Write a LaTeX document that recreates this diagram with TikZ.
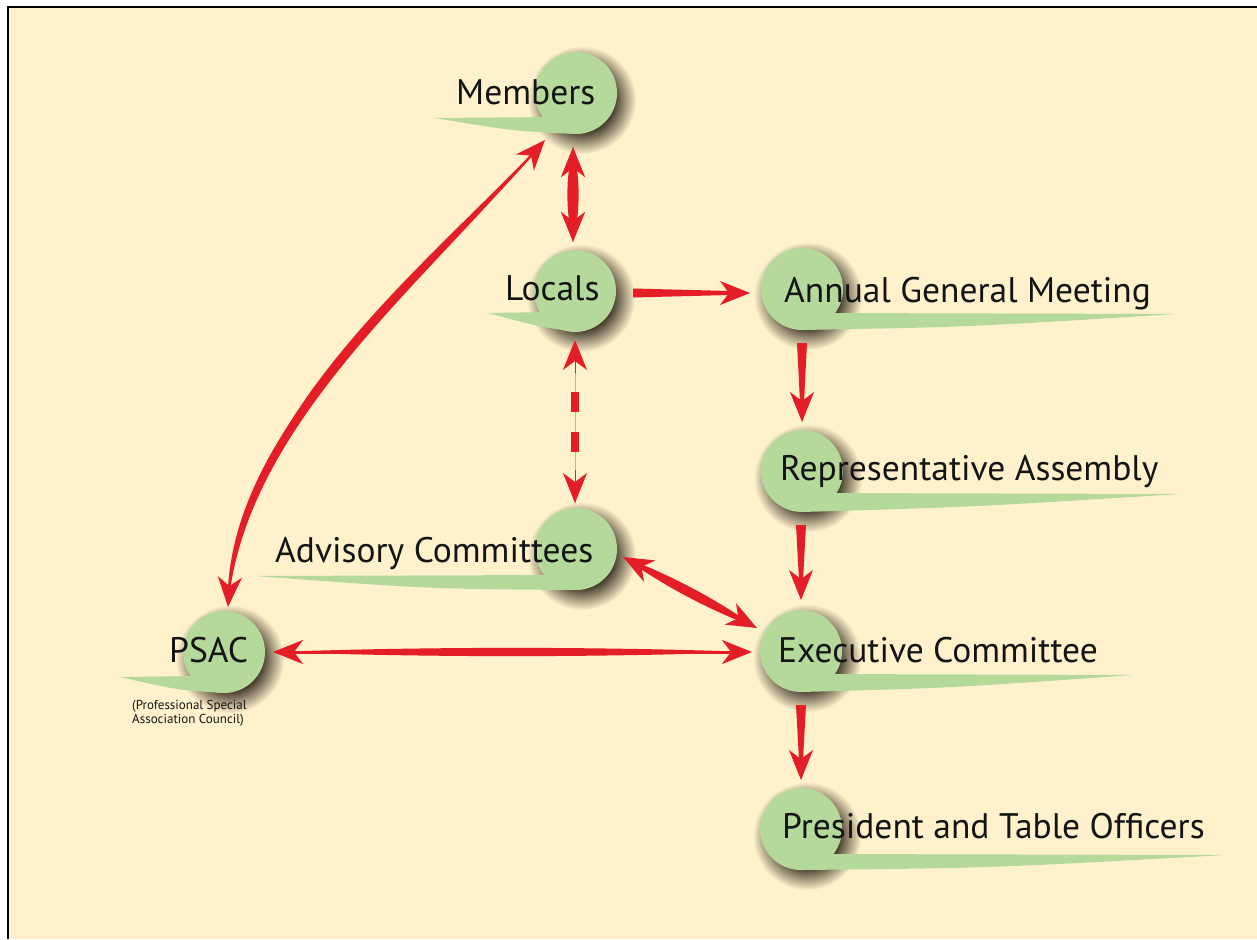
\documentclass[tikz,border=0pt]{standalone}
\usepackage{fontspec}
\setmainfont{PT Sans}
\usetikzlibrary{calc,arrows.meta,fadings}
\definecolor{bgcream}{HTML}{FEF1CC}
\definecolor{nodegreen}{HTML}{B4D99B}
\definecolor{arrred}{HTML}{E41E26}
\definecolor{dashline}{HTML}{D8A8A4}
\definecolor{txt}{HTML}{141414}
\pgfdeclareradialshading{softshadowshade}{\pgfpointorigin}{color(0bp)=(white); color(13bp)=(white); color(25bp)=(black); color(50bp)=(black)}
\pgfdeclarefading{softshadow}{\pgfuseshading{softshadowshade}}
\tikzset{
  gcirc/.style={circle, fill=nodegreen, minimum size=82pt, inner sep=0pt, outer sep=0pt},
  lbl/.style={text=txt, font=\fontsize{35.5}{42}\selectfont, inner sep=0pt, anchor=base west},
  sublbl/.style={text=txt, font=\fontsize{13}{14}\selectfont, inner sep=0pt, align=left, anchor=north west},
  shadowblob/.style={fill=black!85!brown, opacity=0.95, path fading=softshadow},
  >={Stealth[length=30pt, width=24pt, inset=9pt]},
  arrline/.style={draw=arrred, fill=arrred}
}
% name, x, y, tip dx, tip dy, side sign
\newcommand\gnode[6]{%
  \fill[shadowblob] (#2+6,#3+7) circle[radius=54pt];
  \fill[nodegreen] (#2+20*#6,#3+#5-1) -- (#2+#4,#3+#5)
     .. controls (#2+0.45*#4,#3+#5+13) .. (#2,#3+41) -- cycle;
  \node[gcirc] (#1) at (#2,#3) {};
}
% double arrow: node1, offset1, node2, offset2, lens offset, line width
\newcommand\dblarrow[6]{%
  \coordinate (tA) at ($(#1)+(#2)$);
  \coordinate (tB) at ($(#3)+(#4)$);
  \fill[arrred] (tA) .. controls ($(tA)!0.33!(tB)!#5!90:(tB)$) and ($(tA)!0.67!(tB)!#5!90:(tB)$) .. (tB)
     .. controls ($(tA)!0.67!(tB)!#5!-90:(tB)$) and ($(tA)!0.33!(tB)!#5!-90:(tB)$) .. (tA) -- cycle;
  \draw[arrline, line width=#6, <->] (tA) -- (tB);
}
% single arrow: node1, offset1, node2, offset2, start half width, end half width
\newcommand\sglarrow[6]{%
  \coordinate (tA) at ($(#1)+(#2)$);
  \coordinate (tB) at ($(#3)+(#4)$);
  \coordinate (tC) at ($(tB)!20pt!(tA)$);
  \fill[arrred] ($(tA)!#5!90:(tB)$) -- ($(tC)!#6!-90:(tA)$) -- ($(tC)!#6!90:(tA)$) -- ($(tA)!#5!-90:(tB)$) -- cycle;
  \draw[arrline, line width=1pt, ->] (tA) -- (tB);
}
\begin{document}
\begin{tikzpicture}[x=1pt, y=-1pt]
\useasboundingbox (0,0) rectangle (1257,939);
\fill[white] (0,0) rectangle (1257,939);
\fill[bgcream] (8,7) rectangle (1257,939);
\draw[black, line width=2pt] (8,939) -- (8,7) -- (1257,7);

% nodes
\gnode{cMem}{576}{93}{-141}{25}{-1}
\gnode{cLoc}{575}{291}{-87}{22}{-1}
\gnode{cAGM}{802}{289}{373}{25}{1}
\gnode{cRA}{802}{471}{378}{23}{1}
\gnode{cAdv}{576}{549}{-321}{27}{-1}
\gnode{cExec}{801}{651}{332}{24}{1}
\gnode{cPSAC}{224}{652}{-104}{25}{-1}
\gnode{cPres}{801}{829}{424}{26}{1}

% connectors
\dblarrow{cMem}{-3,54}{cLoc}{-2,-49}{7.5pt}{4pt}
\sglarrow{cLoc}{58,2}{cAGM}{-52,4}{4.5pt}{2pt}
\sglarrow{cAGM}{0,54}{cRA}{0,-49}{5pt}{2pt}
\sglarrow{cRA}{-1,54}{cExec}{0,-51}{5pt}{2pt}
\sglarrow{cExec}{0,54}{cPres}{0,-49}{5pt}{2pt}
\dblarrow{cAdv}{47,8}{cExec}{-44,-23}{6.5pt}{3pt}
\dblarrow{cPSAC}{49,0}{cExec}{-49,1}{5.5pt}{3pt}

% dashed link Locals <-> Advisory
\coordinate (dA) at ($(cLoc)+(0,49)$);
\coordinate (dB) at ($(cAdv)+(-1,-46)$);
\draw[dashline, line width=1pt] (dA) -- (dB);
\draw[arrline, line width=1pt, ->] ($(dA)!33pt!(dB)$) -- (dA);
\draw[arrline, line width=1pt, ->] ($(dB)!33pt!(dA)$) -- (dB);
\draw[arrred, line width=8pt, dash pattern=on 20pt off 20pt] ($(dA)!52pt!(dB)$) -- ($(dA)!112pt!(dB)$);

% curved link PSAC <-> Members
\coordinate (cvA) at ($(cPSAC)+(4,-45)$);
\coordinate (cvB) at ($(cMem)+(-31,47)$);
\coordinate (cv1) at ($(cvA)+(12,-187)$);
\coordinate (cv2) at ($(cvB)+(-125,140)$);
\fill[arrred] (cvA) .. controls ($(cv1)+(4.5,4.5)$) and ($(cv2)+(4.5,4.5)$) .. (cvB)
   .. controls ($(cv2)+(-4.5,-4.5)$) and ($(cv1)+(-4.5,-4.5)$) .. (cvA) -- cycle;
\draw[arrline, line width=2.5pt, fill=none, <->] (cvA) .. controls (cv1) and (cv2) .. (cvB);

% labels
\node[lbl] (tMem) at (456,105) {Members};
\node[lbl] (tLoc) at (505,300) {Locals};
\node[lbl] (tAGM) at (784,302) {Annual General Meeting};
\node[lbl] (tRA) at (780,480) {Representative Assembly};
\node[lbl] (tAdv) at (275,562) {Advisory Committees};
\node[lbl] (tExec) at (778,662) {Executive Committee};
\node[lbl] (tPSAC) at (169,662) {PSAC};
\node[lbl] (tPres) at (782,838) {President and Table Officers};
\node[sublbl] (tSub) at (132,700) {(Professional Special\\Association Council)};
\end{tikzpicture}
\end{document}
